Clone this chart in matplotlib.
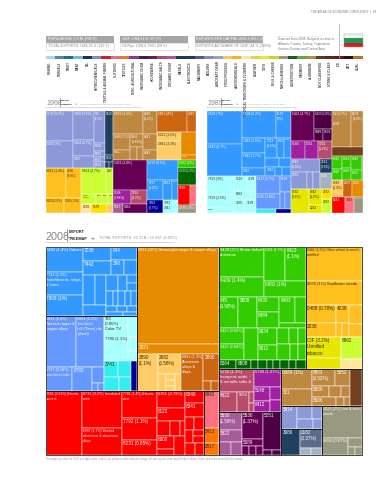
import matplotlib
matplotlib.use("Agg")
import matplotlib.pyplot as plt
from matplotlib.patches import Rectangle, Polygon

plt.rcParams['font.family'] = ['Liberation Sans Narrow', 'Liberation Sans', 'DejaVu Sans']

COLORS = {
    "blue": "#3399ff", "orange": "#e68a00", "green": "#33cc00", "gold": "#ffc01f",
    "lime": "#ccff33", "olive": "#e6e600", "red": "#ff0000", "peri": "#6699ff",
    "lcyan": "#aaffff", "cyan": "#33eeee", "navy": "#000099", "lorange": "#ffcc66",
    "dorange": "#cc6611", "rose": "#b84d6b", "magenta": "#a020a0", "mauve": "#a65c99",
    "wine": "#660055", "dwine": "#4d0045", "brown": "#bf8840", "dbrown": "#734020",
    "slate": "#8c99d9", "teal": "#1f4060", "sgray": "#5c6b8a", "gray": "#999980",
    "bgray": "#a6b3bf", "dgreen": "#006600", "pink": "#ff7080", "borange": "#ff7700",
    "pale": "#ffe699", "yellow": "#ffe000",
}
DARK_TEXT = {"gold", "lime", "olive", "lcyan", "cyan", "lorange", "pale", "yellow", "pink", "borange"}

# strip of product communities
strip_colors = ["#a6d8e6", "#4d85b8", "#1f6f8f", "#6fc0cf", "#1f2a70", "#7b8fc9", "#c8242c",
                "#e07080", "#e07b2a", "#8a3a8f", "#4a1a55", "#6a1a55", "#a84d70", "#a65c99",
                "#1f3560", "#1f3a5c", "#4d5f7a", "#8585c0", "#8fa5c8", "#f2c766", "#f0b429",
                "#fae6a0", "#d8d83a", "#f0e030", "#d0d030", "#9a9a80", "#0f5c30", "#5cab3a",
                "#b88a4a", "#5c3d20", "#6a2020", "#5a1a1a", "#2a1010", "#c07020"]
strip_labels = ["FISHING", "CEREALS", "FRUIT", "MEAT", "OIL", "PETROCHEMICALS",
                "TEXTILE & ANIMAL FIBERS", "CLOTHING", "TEXTILES", "MISC. AGRICULTURAL", "INORGANIC CHEM",
                "HOUSEWARE", "INORGANIC SALTS", "ORGANIC CHEM", "METALS", "ELECTRONICS", "MACHINERY",
                "BOILERS", "AIRCRAFT GEAR", "FOOD PROCESS", "AGROCHEMICALS", "TROPICAL TREECROPS & FLOWERS",
                "LEATHER", "TOYS", "MILK & CHEESE", "MISCELLANEOUS", "CONSTRUCTION", "GARMENT",
                "ALUMINIUM", "NOT CLASSIFIED", "STONE & GLASS", "ICE", "ART", "COAL"]

header_top = ["POPULATION: 7.5 M. (79/73)", "GDP: US$ 51.8 / 27 (Y)", "EXPORTS PER CAPITA: USD 2,985 / (30/Y)"]
header_low = ["TOTAL EXPORTS: US$ 22.4 / (30 Y)", "GDPpc: US$ 6,798 / (58 Y)", "EXPORTS AS SHARE OF GDP: 44 % (2008)"]
note_lines = ["Data are from 2008. Bulgaria is close to", "Albania, Croatia, Turkey, Yugoslavia", "Eastern Europe and Central Asia"]

# 2008 groups: shares of the exports
b08_left = [(1.4, "7482 (1.4%) Valves"), (1.3, "7723 (1.3%)\nSwitchboards, relays\n& fuses"), (1.2, "7868 (1%)")]
b08_right = [[[(0.6, "7238"), (0.6, "7442")], [(0.5, "944"), [(0.3, "398"), 0.3]]],
             [[[0.55, 0.52], 0.4],
              [[0.3, 0.22, [0.13, 0.14]], [0.14, 0.12, 0.14, 0.14, 0.14], [0.09, 0.09, 0.09], [0.1, 0.09]]]]
p08_top = [(2.4, "6832 (2.4%)\nWorked copper &\ncopper alloys"), (2.16, "6664 (2.2%)\nIron/steel\n(<4.75mm) rds\n(sheet)")]
p08_low = [(0.98, "6727 (0.38%)\nIron/steel coils"), (0.72, "6783"), [0.3, [0.07, 0.07]]]
c08_top = [(1.65, "783\n(0.85%)\nColor TV\n\n7780 (1.1%)"), [0.3, 0.2, 0.15]]
c08_low = [[[(0.35, "3741"), 0.3], [0.3, 0.25]], ("navy", (0.3, ""))]
o08_light = [(1.15, "2890\n(1.1%)"), [(0.75, "2682\n(0.58%)"), [0.22, [0.07, 0.08, 0.07], 0.15]]]
o08_dark = [(1.25, "6891 (1.3%)\nAluminium\nalloys &\nalloys"), [(0.65, "2890"), [0.12, 0.11]]]
r08_col2 = [(2.25, "8732 (3.2%) Insulated\nwire"), (1.63, "6997 (1.7%) Worked\naluminium & aluminium\nalloys")]
r08_col3 = [(1.45, "7781 (1.4%) Electric\nwire"), (1.13, "7792 (1.1%)"), (0.82, "8231 (0.85%)")]
r08_col4a = [(0.72, "6351 (0.79%)"), (0.55, "8122"), [0.3, 0.22, 0.12], [[(0.34, "6300"), 0.15], 0.32]]
r08_col4b = [[(0.34, "6340")], (0.4, "8341"), [0.2, 0.2], [0.15, [0.1, 0.1]], [0.2, 0.16]]
g08_row1 = [[(2.05, "8439 (2%) Motor-linked\nantennas"), (1.36, "6439 (1.4%)")],
            [[(1.1, "9401 (1.5%)"), (1.06, "8423\n(1.1%)")], (1.02, "6682 (1%)")]]
g08_row2 = [(0.92, "845\n(0.90%)"), (0.87, "8508"), [(0.52, "8435"), (0.54, "8484")],
            [[(0.62, "8483"), 0.42], 0.2]]
g08_row3 = [[(0.62, "6423 (0.82%)"), (0.62, "6422 (0.84%)")], [(0.65, "")],
            [(0.5, "9034"), (0.45, "9012")], [[0.3, 0.22, 0.2], [0.28, 0.2, 0.18]]]
g08_dark = [(0.24, "8364"), (0.2, "6508"), 0.1, 0.12, 0.08, 0.1, 0.12, 0.09, 0.14]
y08_row3 = [[(0.85, "0488 (0.78%)"), (0.62, "2238")], [(0.35, "4238"), [0.12, 0.13]], [0.4, 0.25]]
y08_olive = [(1.14, "CIF (3.2%)\nUnmilled\ntobacco"), (0.57, "")]
y08_lime = [(0.7, "8962"), ("pale", [0.15, 0.16])]
rose08 = [(1.25, "5232 (1.3%)\nInorganic acids\n& metallic salts &"), [(0.55, "8622"), (0.33, "5552"), [0.08, 0.07]]]
mag08 = [(0.8, "5749 (1.07%)"), [[(0.35, "5148"), (0.26, "6412")], [0.22, 0.2]]]
mau08 = [(0.62, "5530\n(1.58%)"), (0.43, "5822"), [0.23, 0.22]]
win08 = [(0.85, "5530\n(1.37%)"), (0.22, "5089"), [0.1, 0.1, 0.1]]
dwi08 = [(1.1, "5251"), [0.07, 0.07]]
bro08 = [[(0.95, "0684 (1%)"), (0.75, "821")],
         [[(0.62, "8803\n(0.52%)"), (0.38, "5352")], [(0.3, "8589"), 0.2, 0.16], [(0.3, "8586"), 0.1, 0.08]]]
sla08 = [(0.55, "5814"), [[0.3, 0.2], [0.25, 0.15]]]
gra08 = [(0.7, "6656 (0.87%)"), [0.2, [0.08, 0.08]]]

tree_2008 = [
    [
        [
            [("box", ("blue", [b08_left, b08_right])),
             ("box", [("peri", [p08_top, p08_low]), [("lcyan", c08_top), ("cyan", c08_low)]])],
            ("box", [("orange", (12.06, "6821 (32%) Unwrought copper & copper alloys")),
                     ("orange", (1.12, "2821")),
                     [("lorange", [o08_light]), ("dorange", [o08_dark])]]),
        ],
        [
            ("box", ("red", [[(3.59, "2586 (3.81%) Electric\ncurrent"), r08_col2, r08_col3,
                              [[r08_col4a, r08_col4b]]]])),
            ("box", [("pink", (0.84, "6982")), ("borange", [[(0.34, "5413"), (0.28, "2517")]])]),
        ],
    ],
    [
        [
            ("box", [("green", [[g08_row1, g08_row2, g08_row3]]), ("dgreen", g08_dark)]),
            ("box", [("gold", [[[(2.89, "0482 (1.8%) Other wheat & meslin,\nunmilled")],
                                [(2.04, "2076 (1%) Sunflower seeds")], y08_row3]]),
                     [("olive", y08_olive), ("lime", y08_lime)]]),
        ],
        [
            [
                ("box", [("rose", rose08), ("magenta", mag08)]),
                ("box", [("mauve", mau08), ("wine", win08), ("dwine", dwi08)]),
            ],
            [
                ("box", [("brown", [bro08]), ("dbrown", (0.68, ""))]),
                [[("box", ("slate", sla08)),
                  ("box", [("teal", (0.72, "3080")), [("sgray", (0.65, "2182\n(0.37%)")), ("bgray", [0.12, 0.11])]])],
                 ("box", ("gray", [(1.95, "2023 (2%) Iron & steel\nwaste"), gra08]))],
            ],
        ],
    ],
]

# 1968 groups
s68_cols = [[(5.4, "5130 (9.2%)"), (5.0, "3310 (7%)")],
            [(4.0, "3300 (3.9%)"), (2.2, "3064 (2.7%)"), (1.6, "3982")],
            [(2.3, "333\n(2.5%)"), (0.6, "6190"), (0.4, "6762"), (0.4, "6515"), (0.4, "6531")]]
t68 = [(2.3, "3540"), (0.4, "3532"), [0.15, 0.15]]
g68 = [[(4.0, "0542 (1.4%)"), (3.0, "4236\n(3.0%)")], [(1.9, "0820 (1.9%)"), (1.7, "0510 (1.5%)")]]
l68 = [[(4.2, "0564 (2.7%)"), (1.3, "0592")], [(0.9, "2506\n(1.1%)"), (0.4, "0554"), (0.35, "2565"), (0.35, "0341")]]
b68_rows = [[(4.5, "6659 (1.4%)"), (2.1, "0289\n(1.2%)")],
            [[(1.8, "0649 (0.7%)"), (1.1, "6631\n(0.28%)")], [(1.1, "6581\n(0.69%)"), [0.6, 0.5]], [(1.4, "0281"), (0.9, "0249")]]]
a68 = [(3.9, "6723 (0.2%)"), [(2.0, "6727\n(1.2%)"), (1.2, "6852"), (0.8, "6519")]]

tree_1968 = [
    [
        [("slate", [s68_cols]), ("teal", t68)],
        [
            ("gold", g68),
            [("lime", [l68]),
             [("pale", (0.6, "0529")), ("yellow", (0.9, "0579")), ("lorange", (0.4, ""))]],
        ],
    ],
    [
        [
            ("brown", b68_rows),
            [("dorange", [(4.0, "6861 (4%)"), (1.2, "2882")]),
             [("lorange", [(1.5, "5321 (1.5%)"), (3.0, "5641 (3.3%)")]), ("orange", [(2.2, ""), (0.5, "0582")])]],
        ],
        [
            [("wine", (6.7, "5421 (2.8%)")),
             [("magenta", (1.6, "5148\n(0.88%)")), ("rose", (1.5, "5232\n(1.2%)"))],
             [("mauve", (0.6, "5647")), ("wine", (1.5, "5416"))]],
            [("blue", [a68]),
             [("navy", (1.3, "7852\n(0.7%)")), ("lcyan", (1.3, "7783\n7841"))]],
            [("green", (0.9, "0322 (2%)")),
             ("dgreen", (2.0, "2633 (1.3%)")),
             [("red", (1.6, "8510")), ("pink", (0.8, ""))],
             ("gray", (0.9, "2560 (1%)"))],
        ],
    ],
]

# 1989 groups
a89 = [[(7.1, "2504 (7%)"), (7.0, "2542 (4.7%)")],
       [[(5.7, "5104 (5.2%)"), (2.5, "8170\n(2%)")],
        [[(2.2, "7249 (1.5%)"), (2.2, "7843 (1.7%)"), (1.1, "7842")],
         [[(1.4, "5713\n(1.5%)"), (0.9, "5201"), (0.9, "7782")], [0.8, 0.7], [(0.5, "7842"), 0.4, 0.5]]]]]
c89 = [[(3.3, "7523 (3%)"), (2.2, "7523 (1.5%)"), (0.9, "7788")],
       [[(1.2, "8510"), (0.9, "7139")], (1.2, "8862"), [(0.9, "7435"), (0.9, "7139")]]]
p89 = [[(2.7, "6117 (2.7%)"), (2.1, "6735 (1.8%)")], [(1.2, "6534"), [0.6, 0.6]]]
g89 = [[(0.8, "0342"), (0.7, "0482")], [(0.7, "0464"), (0.7, "0482")], [(0.9, "0342"), (0.7, "0465")]]

tree_1989 = [
    [
        ("blue", a89),
        [
            ("lcyan", [c89]),
            [("peri", p89), [("cyan", (0.5, "")), ("navy", (0.4, ""))]],
        ],
    ],
    [[
        [
            [[[("wine", (4.2, "5421 (4.7%)")), ("dwine", [(2.0, "6423 (1.8%)"), [(0.7, "5089"), (0.7, "5532")]])],
              [("magenta", [[(1.5, "5148"), (1.5, "5232")]]), ("rose", (1.5, "5231\n(1.2%)"))]]],
            [("slate", [(2.4, "2542\n(1.8%)"), [(1.6, "5231"), (0.7, ""), (0.7, "")]]),
             [("teal", (1.0, "3521\n(0.9%)")), ("bgray", (1.2, "5332"))]],
            ("olive", [(2.6, "8732\n(2.6%)"), [(1.3, "0342\n(1.2%)"), (0.7, "2282")],
                       [("yellow", (0.6, "2632")), ("lime", (0.8, "2682"))]]),
        ],
        [
            [[("brown", [(4.4, "02 (3.7%)\n\n4238"), (2.6, "6474\n(1.9%)")]), ("dbrown", (1.8, ""))]],
            [("green", [g89]), ("gray", (0.2, ""))],
            [("lorange", (1.2, "0542\n(1.3%)")), ("dorange", (0.9, "2879")), ("orange", (1.2, "0562"))],
            [("red", (1.3, "8231")), ("pink", (0.9, "7842")), ("gray", (0.9, "2560 (1%)"))],
        ],
    ]],
]


def node_value(node):
    if isinstance(node, list):
        return sum(node_value(n) for n in node)
    if isinstance(node, tuple):
        return node_value(node[1]) if isinstance(node[0], str) else node[0]
    return node


def fit_text(t, w, h, renderer):
    # shrink a label until it sits inside its cell
    for _ in range(8):
        box = t.get_window_extent(renderer)
        if box.width <= w - 1.5 and box.height <= h - 1.5:
            break
        t.set_fontsize(t.get_fontsize() * 0.9)


def draw_node(ax, node, x, y, w, h, depth, color, fs, leaf_lw, box_lw):
    if isinstance(node, tuple) and isinstance(node[0], str):
        if node[0] == "box":
            draw_node(ax, node[1], x, y, w, h, depth, color, fs, leaf_lw, box_lw)
            ax.add_patch(Rectangle((x, y), w, h, fill=False, ec="#1a1a1a", lw=box_lw, zorder=4))
        else:
            draw_node(ax, node[1], x, y, w, h, depth, node[0], fs, leaf_lw, box_lw)
        return
    if isinstance(node, list):
        total = node_value(node)
        pos = 0.0
        for child in node:
            share = node_value(child) / total
            if depth % 2 == 0:
                draw_node(ax, child, x + pos * w, y, share * w, h, depth + 1, color, fs, leaf_lw, box_lw)
            else:
                draw_node(ax, child, x, y + pos * h, w, share * h, depth + 1, color, fs, leaf_lw, box_lw)
            pos += share
        return
    label = node[1] if isinstance(node, tuple) else ""
    rect = Rectangle((x, y), w, h, fc=COLORS[color], ec="#ffffff", lw=leaf_lw, zorder=2)
    ax.add_patch(rect)
    if label:
        tc = "#3a2a00" if color in DARK_TEXT else "#ffffff"
        t = ax.text(x + 1.0, y + 1.0, label, fontsize=fs, color=tc, va="top", ha="left",
                    linespacing=1.35, zorder=3)
        fit_text(t, w, h, fig.canvas.get_renderer())
        t.set_clip_path(rect)


def title_block(ax, year, x, y, sep, size, sub_size, k, total, rule_end):
    ax.text(x, y, year, fontsize=size, color="#888888", va="baseline", ha="left")
    ax.plot([sep, sep], [y - 11 * k, y + 1], color="#555555", lw=0.4)
    ax.text(sep + 2 * k, y - 6.6 * k, "EXPORT", fontsize=sub_size, color="#222222", weight="bold", va="baseline")
    ax.text(sep + 2 * k, y - 0.5 * k, "TREEMAP", fontsize=sub_size, color="#222222", weight="bold", va="baseline")
    ax.add_patch(Polygon([[sep + 24 * k, y - 2 * k], [sep + 28 * k, y - 2 * k], [sep + 26 * k, y]], fc="#999999", ec="none"))
    ax.text(sep + 32 * k, y - 0.5 * k, total, fontsize=sub_size + 0.1, color="#999999", va="baseline")
    ax.plot([x - 1, rule_end], [y + 2.2, y + 2.2], color="#bbbbbb", lw=0.4)


fig = plt.figure(figsize=(3.87, 4.80), dpi=100)
ax = fig.add_axes([0, 0, 1, 1])
ax.set_xlim(0, 387)
ax.set_ylim(480, 0)
ax.axis("off")

ax.text(376, 12, "THE ATLAS OF ECONOMIC COMPLEXITY  |  99", fontsize=2.2, color="#777777", ha="right", va="center")

for i, bx in enumerate([46, 120, 195]):
    ax.add_patch(Rectangle((bx, 36), 68, 6.5, fc="#a3a5a8", ec="none"))
    ax.add_patch(Rectangle((bx, 42.5), 68, 7.5, fc="white", ec="#cfcfcf", lw=0.4))
    ax.text(bx + 1.5, 39.3, header_top[i], fontsize=2.7, color="white", va="center")
    ax.text(bx + 1.5, 46.3, header_low[i], fontsize=2.7, color="#888888", va="center")

ax.plot([276, 323], [35.5, 35.5], color="#cccccc", lw=0.4, ls=":")
for i, line in enumerate(note_lines):
    ax.text(278, 39 + i * 4.8, line, fontsize=2.3, color="#777777", va="center")

ax.plot([338.5, 338.5], [24, 58], color="#aaaaaa", lw=0.5)
flag_colors = ["#f4f4f4", "#1b9a52", "#d62020"]
for i, c in enumerate(flag_colors):
    ax.add_patch(Rectangle((343.5, 33.5 + i * 4.6), 19, 4.6, fc=c, ec="none"))
ax.add_patch(Rectangle((343.5, 33.5), 19, 13.8, fill=False, ec="#999999", lw=0.3))

seg_w = (362.5 - 45.5) / len(strip_colors)
for i, c in enumerate(strip_colors):
    ax.add_patch(Rectangle((45.5 + i * seg_w, 56), seg_w, 3, fc=c, ec="none"))
    ax.text(45.5 + (i + 0.5) * seg_w, 61.5, strip_labels[i], fontsize=2.2, rotation=90, color="#444444",
            ha="center", va="top", weight="bold")

title_block(ax, "1968", 46, 105, 60, 5.0, 1.6, 0.62, "TOTAL EXPORTS: 269.47M / 175.02M (0.11%)", 140)
title_block(ax, "1989", 207, 105, 221, 5.0, 1.6, 0.62, "TOTAL EXPORTS: 2.26B / 1.71T (0.08%)", 296)
title_block(ax, "2008", 46, 240, 67, 7.8, 2.8, 1.0, "TOTAL EXPORTS: 22.37B / 15.86T (0.05%)", 174)

draw_node(ax, tree_1968, 45.5, 111, 150, 102, 0, "slate", 2.3, 0.25, 0.3)
draw_node(ax, tree_1989, 207, 111, 156, 102, 0, "blue", 2.3, 0.25, 0.3)
draw_node(ax, tree_2008, 45.5, 247, 316.5, 208, 0, "blue", 3.3, 0.35, 0.7)
ax.add_patch(Rectangle((45.5, 247), 316.5, 208, fill=False, ec="#555555", lw=0.6, zorder=5))

ax.text(46, 459, "Treemaps use data for 2008 in 4-digit codes. Labels are product codes with percentage of total exports. Emerging Markets shown, trade data is presented by the country.",
        fontsize=1.9, color="#999999", va="center")

fig.savefig("out.png", dpi=100)
